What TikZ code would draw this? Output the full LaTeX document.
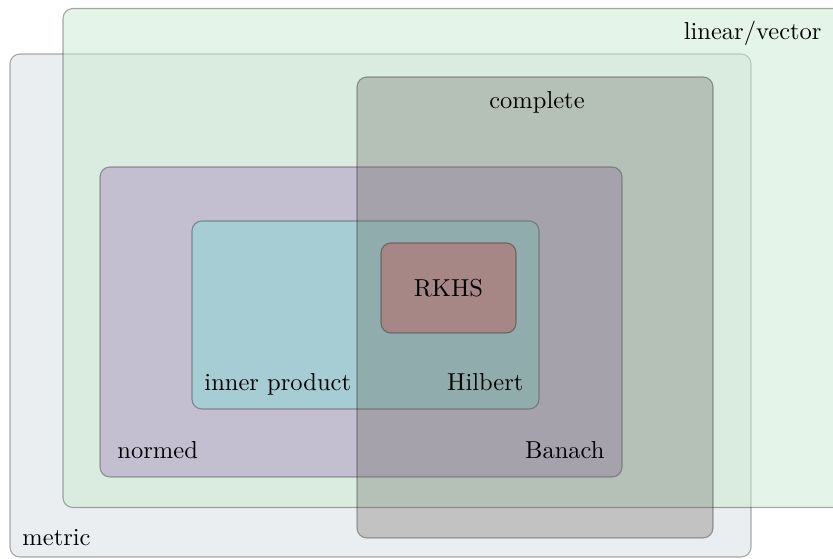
\documentclass[tikz,border=0pt]{standalone}
\definecolor{linc}{RGB}{201,233,209}
\definecolor{metc}{RGB}{155,170,180}
\definecolor{normc}{RGB}{147,89,172}
\definecolor{innc}{RGB}{138,220,215}
\definecolor{compc}{RGB}{98,95,87}
\definecolor{rkhsc}{RGB}{190,97,96}
\tikzset{
  region/.style={draw=black, draw opacity=0.32, line width=0.45pt, rounded corners=4pt, fill opacity=#1},
  lbl/.style={inner sep=0pt, text=black},
}
\begin{document}
\begin{tikzpicture}[x=0.408pt, y=-0.408pt]
\useasboundingbox (0,0) rectangle (833,559);
\clip (0,0) rectangle (833,559);
\path[region=0.2, fill=metc] (10,54) rectangle (751,557);
\path[region=0.5, fill=linc] (63,8.5) rectangle (900,507.5);
\path[region=0.3, fill=normc] (100,167) rectangle (622,477);
\path[region=0.5, fill=innc] (192,221) rectangle (539,409);
\path[region=0.3, fill=compc] (357,77) rectangle (713,538);
\path[region=0.5, fill=rkhsc] (381,243) rectangle (516,333);
\node[lbl, anchor=base east] (linlbl) at (822,40) {linear/vector};
\node[lbl, anchor=base west] (metlbl) at (22,546) {metric};
\node[lbl, anchor=base] (complbl) at (537,109) {complete};
\node[lbl, anchor=base west] (normlbl) at (117,459) {normed};
\node[lbl, anchor=base east] (banlbl) at (605,459) {Banach};
\node[lbl, anchor=base west] (innlbl) at (204,391) {inner product};
\node[lbl, anchor=base east] (hillbl) at (524,391) {Hilbert};
\node[lbl, anchor=base] (rkhslbl) at (448.5,297) {RKHS};
\end{tikzpicture}
\end{document}
